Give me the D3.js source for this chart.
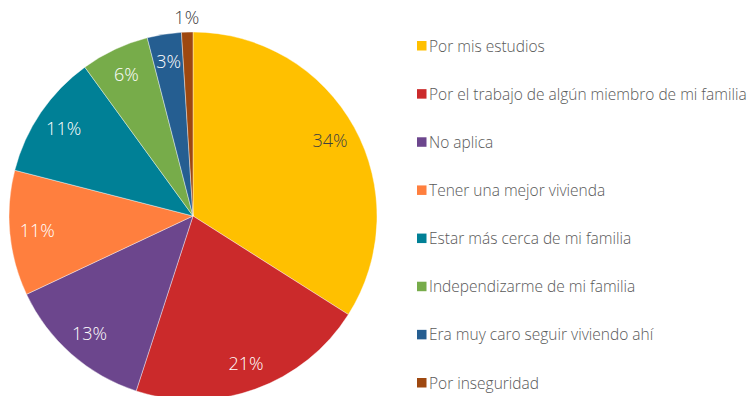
<!DOCTYPE html>
<html>
<head>
<meta charset="utf-8">
<script src="https://cdn.jsdelivr.net/npm/d3@7"></script>
<style>
  html, body { margin: 0; padding: 0; background: #fff; }
  svg text { font-family: "Open Sans", "Liberation Sans", sans-serif; font-weight: 300; }
</style>
</head>
<body>
<svg id="chart" width="749" height="396"></svg>
<script>
const categories = [
  "Por mis estudios",
  "Por el trabajo de algún miembro de mi familia",
  "No aplica",
  "Tener una mejor vivienda",
  "Estar más cerca de mi familia",
  "Independizarme de mi familia",
  "Era muy caro seguir viviendo ahí",
  "Por inseguridad"
];
const values = [34, 21, 13, 11, 11, 6, 3, 1];
const colors = ["#FFC000", "#CB2A2B", "#6C468D", "#FF7F3E", "#008096", "#77AC4A", "#255E91", "#9E4810"];

const svg = d3.select("#chart");
const cx = 193, cy = 216, radius = 184;

const data = categories.map((c, i) => ({ name: c, value: values[i], color: colors[i] }));

const pie = d3.pie().value(d => d.value).sort(null);
const arc = d3.arc().innerRadius(0).outerRadius(radius);
const labelArc = d3.arc().innerRadius(radius * 0.85).outerRadius(radius * 0.85);
const outerLabelArc = d3.arc().innerRadius(radius * 1.08).outerRadius(radius * 1.08);

const g = svg.append("g").attr("transform", `translate(${cx},${cy})`);
const arcs = pie(data);

g.selectAll("path.slice")
  .data(arcs)
  .join("path")
  .attr("class", "slice")
  .attr("d", arc)
  .attr("fill", d => d.data.color)
  .attr("stroke", "#fff")
  .attr("stroke-width", 0.4);

// Small slices get their label outside the pie; light fills get dark text
const isOutside = d => d.data.value < 2;
const labelFill = d => isOutside(d) || d3.lab(d.data.color).l > 75 ? "#404040" : "#fff";

g.selectAll("text.pct")
  .data(arcs)
  .join("text")
  .attr("class", "pct")
  .attr("transform", d => {
    const p = isOutside(d) ? outerLabelArc.centroid(d) : labelArc.centroid(d);
    return `translate(${p[0]},${p[1]})`;
  })
  .attr("text-anchor", "middle")
  .attr("dy", "0.36em")
  .attr("font-size", 18)
  .attr("fill", labelFill)
  .text(d => d.data.value + "%");

// Legend
const legend = svg.append("g").attr("transform", "translate(417,0)");
const rowY = d3.scalePoint().domain(categories).range([46, 383]);

const rows = legend.selectAll("g.row")
  .data(data)
  .join("g")
  .attr("class", "row")
  .attr("transform", d => `translate(0,${rowY(d.name)})`);

rows.append("rect")
  .attr("x", 0).attr("y", -5)
  .attr("width", 9.5).attr("height", 9.5)
  .attr("fill", d => d.color);

rows.append("text")
  .attr("x", 12)
  .attr("dy", "0.36em")
  .attr("font-size", 15.5)
  .attr("fill", "#595959")
  .text(d => d.name);
</script>
</body>
</html>
